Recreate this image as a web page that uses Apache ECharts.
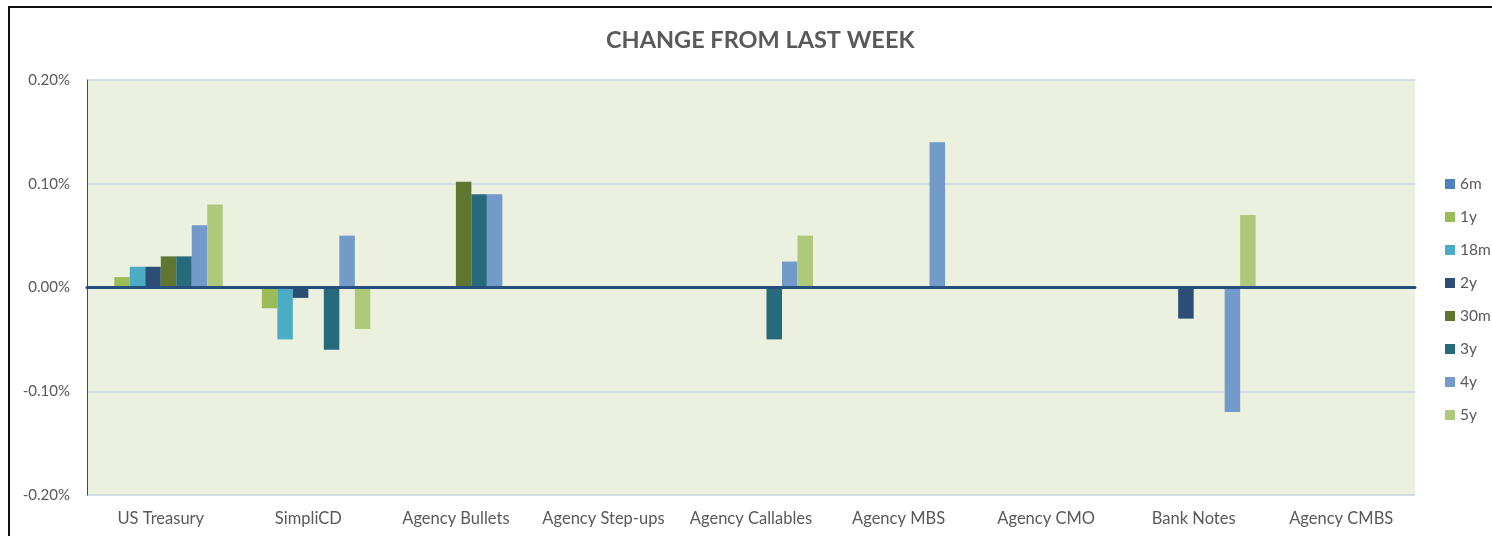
<!DOCTYPE html>
<html>
<head>
<meta charset="utf-8">
<script src="https://cdn.jsdelivr.net/npm/echarts@6/dist/echarts.min.js"></script>
<style>
html,body{margin:0;padding:0;background:#fff;}
#chart{width:1492px;height:536px;}
</style>
</head>
<body>
<div id="chart"></div>
<script>
var titleText = 'CHANGE FROM LAST WEEK';
var categories = ['US Treasury','SimpliCD','Agency Bullets','Agency Step-ups','Agency Callables','Agency MBS','Agency CMO','Bank Notes','Agency CMBS'];
var seriesNames = ['6m','1y','18m','2y','30m','3y','4y','5y'];
// values in percent
var v6m  = [0, 0, 0, 0, 0, 0, 0, 0, 0];
var v1y  = [0.01, -0.02, 0, 0, 0, 0, 0, 0, 0];
var v18m = [0.02, -0.05, 0, 0, 0, 0, 0, 0, 0];
var v2y  = [0.02, -0.01, 0, 0, 0, 0, 0, -0.03, 0];
var v30m = [0.03, 0, 0.102, 0, 0, 0, 0, 0, 0];
var v3y  = [0.03, -0.06, 0.09, 0, -0.05, 0, 0, 0, 0];
var v4y  = [0.06, 0.05, 0.09, 0, 0.025, 0.14, 0, -0.12, 0];
var v5y  = [0.08, -0.04, 0, 0, 0.05, 0, 0, 0.07, 0];
var yMin = -0.2, yMax = 0.2, yInterval = 0.1;

var seriesValues = [v6m, v1y, v18m, v2y, v30m, v3y, v4y, v5y];
var colors = ['#4F81BD','#9BBB59','#4BACC6','#2C4D75','#5F7530','#276A7C','#729ACA','#AFC97A'];

var font = 'Lato, "Open Sans", sans-serif';
var chart = echarts.init(document.getElementById('chart'));
chart.setOption({
  animation: false,
  color: colors,
  title: {
    text: titleText,
    left: 606, top: 28, padding: 0,
    textStyle: {fontFamily: font, fontSize: 23.5, fontWeight: 'bold', color: '#595959'}
  },
  legend: {
    orient: 'vertical',
    left: 1445, top: 176, padding: 0,
    itemWidth: 10, itemHeight: 10, itemGap: 17,
    icon: 'rect',
    data: seriesNames,
    textStyle: {fontFamily: font, fontSize: 15.5, lineHeight: 16, color: '#595959'}
  },
  grid: {
    left: 87, right: 77, top: 80, bottom: 41,
    show: true, backgroundColor: '#EBF0DF', borderWidth: 0
  },
  xAxis: [{
    type: 'category', data: categories, position: 'bottom',
    axisLine: {show: false, onZero: false},
    axisTick: {show: false},
    axisLabel: {fontFamily: font, fontSize: 16.5, color: '#595959', margin: 15, interval: 0}
  }, {
    type: 'category', data: categories, position: 'bottom', z: 5,
    axisLine: {show: true, onZero: true, lineStyle: {color: '#264E7E', width: 3}},
    axisTick: {show: false},
    axisLabel: {show: false}
  }],
  yAxis: {
    type: 'value', min: yMin, max: yMax, interval: yInterval,
    axisLine: {show: true, lineStyle: {color: '#2C4D75', width: 1}},
    axisTick: {show: false},
    splitLine: {lineStyle: {color: '#D3DDE5', width: 2}},
    axisLabel: {fontFamily: font, fontSize: 15, color: '#595959', margin: 17,
      formatter: function(v){ return v.toFixed(2) + '%'; }}
  },
  series: seriesNames.map(function(n, i){
    return {
      name: n, type: 'bar', xAxisIndex: 0,
      data: seriesValues[i],
      barGap: '0%', barCategoryGap: '16%',
      itemStyle: {color: colors[i]}
    };
  }),
  graphic: [
    {type: 'line', shape: {x1: 8, y1: 7, x2: 1492, y2: 7}, style: {stroke: '#111', lineWidth: 2}, z: 100},
    {type: 'line', shape: {x1: 9, y1: 6, x2: 9, y2: 536}, style: {stroke: '#111', lineWidth: 2}, z: 100}
  ]
});
</script>
</body>
</html>
